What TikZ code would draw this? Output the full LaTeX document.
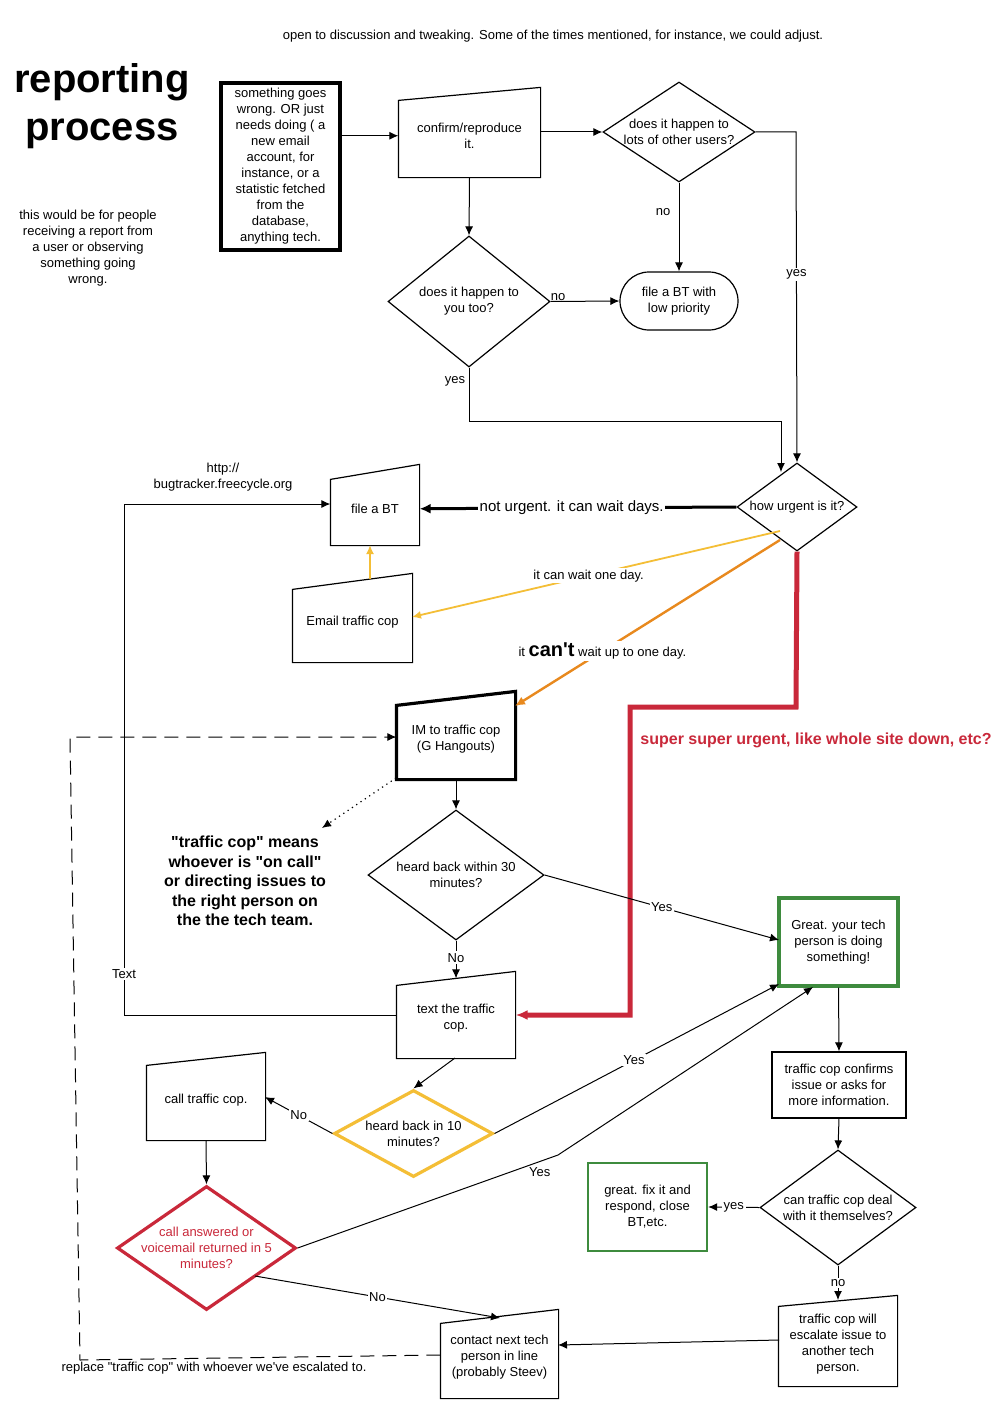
\documentclass[tikz,border=0pt]{standalone}
\usepackage{fontspec}
\setmainfont{Liberation Sans}
\usetikzlibrary{arrows.meta,shapes.geometric}
\definecolor{cyel}{HTML}{F4BE36}
\definecolor{corg}{HTML}{E8891E}
\definecolor{cred}{HTML}{C9283A}
\definecolor{cgrn}{HTML}{3E8B3E}
\newcommand\manual[8]{%
  \node[manbox,minimum width=#5*0.5pt,minimum height=#6*0.5pt] (#2) at (#3,#4) {#8};
  \draw[#1] (#2.south west) -- (#2.south east) -- ([yshift=#7]#2.north east) -- ([yshift=-#7]#2.north west) -- cycle;}
\newcommand\dq{\textquotedbl}
\begin{document}
\begin{tikzpicture}[x=0.5pt,y=-0.5pt,
  font=\fontsize{6.5}{8}\selectfont,
  manbox/.style={draw=none,inner sep=0pt,align=center,rectangle},
  dia/.style={diamond,draw,inner sep=0pt,line width=0.6pt},
  lbl/.style={align=center,inner sep=0pt},
  arr/.style={line width=0.5pt,-{Latex[length=4.5pt,width=4pt]}},
  el/.style={fill=white,inner sep=0.8pt},
  line width=0.6pt]
\useasboundingbox[fill=white] (0,0) rectangle (1000,1413);

\node[lbl] (top) at (553,36) {open to discussion and tweaking. Some of the times mentioned, for instance, we could adjust.};
\node[lbl,font=\fontsize{20}{24}\selectfont\bfseries] (title) at (102,106) {reporting\\process};
\node[lbl] (note1) at (88,248) {this would be for people\\receiving a report from\\a user or observing\\something going\\wrong.};

\node[draw,line width=1.6pt,minimum width=59.5pt,minimum height=83.5pt,inner sep=0pt,align=center] (s1) at (280.5,166.5) {something goes\\wrong. OR just\\needs doing ( a\\new email\\account, for\\instance, or a\\statistic fetched\\from the\\database,\\anything tech.};

\manual{}{conf}{469.5}{135.75}{141}{82.5}{3.25pt}{confirm/reproduce\\it.}
\node[dia,minimum width=76pt,minimum height=50pt] (d1) at (679,132) {};
\node[lbl] at (d1) {does it happen to\\lots of other users?};
\node[dia,minimum width=81pt,minimum height=65.5pt] (d2) at (469,301.5) {};
\node[lbl] at (d2) {does it happen to\\you too?};
\node[draw,rounded corners=14.5pt,minimum width=59pt,minimum height=29pt,align=center,inner sep=0pt] (bt) at (679,301) {file a BT with\\low priority};
\node[dia,minimum width=60pt,minimum height=44pt] (d3) at (797,507) {};
\node[lbl] at (d3) {how urgent is it?};

\manual{}{fbt}{375}{508.75}{88}{72.5}{3.75pt}{file a BT}
\node[lbl] (url) at (223,477) {http://\\bugtracker.freecycle.org};
\manual{}{email}{352.5}{622}{119}{80}{4pt}{Email traffic cop}
\manual{line width=1.6pt}{im}{456}{739}{118}{80}{3.5pt}{IM to traffic cop\\(G Hangouts)}
\node[lbl,font=\fontsize{8}{9.75}\selectfont\bfseries] (tcnote) at (245,881) {\dq traffic cop\dq{} means\\whoever is \dq on call\dq\\or directing issues to\\the right person on\\the the tech team.};
\node[dia,minimum width=88pt,minimum height=65pt] (d4) at (456,875) {};
\node[lbl] at (d4) {heard back within 30\\minutes?};
\node[draw=cgrn,line width=1.6pt,minimum width=59.5pt,minimum height=44pt,align=center,inner sep=0pt] (great) at (838.5,942) {Great. your tech\\person is doing\\something!};
\manual{}{txt}{456}{1018.5}{118}{79}{3.5pt}{text the traffic\\cop.}
\node[dia,draw=cyel,line width=1.6pt,minimum width=79.5pt,minimum height=43.5pt] (d5) at (413.5,1133.5) {};
\node[lbl] at (d5) {heard back in 10\\minutes?};
\manual{}{call}{206}{1099.75}{118}{80.5}{3.25pt}{call traffic cop.}
\node[dia,draw=cred,line width=1.6pt,minimum width=89.5pt,minimum height=62pt] (d6) at (206.5,1248) {};
\node[lbl,text=cred] at (d6) {call answered or\\voicemail returned in 5\\minutes?};
\manual{}{contact}{499.5}{1357.5}{117}{81}{3.5pt}{contact next tech\\person in line\\(probably Steev)};
\node[draw,minimum width=67pt,minimum height=33pt,align=center,inner sep=0pt] (conf2) at (839,1085) {traffic cop confirms\\issue or asks for\\more information.};
\node[dia,minimum width=78pt,minimum height=57.5pt] (d7) at (838,1207.5) {};
\node[lbl] at (d7) {can traffic cop deal\\with it themselves?};
\node[draw=cgrn,line width=1.2pt,minimum width=59.5pt,minimum height=44pt,align=center,inner sep=0pt] (fix) at (647.5,1207) {great. fix it and\\respond, close\\BT,etc.};
\manual{}{esc}{838}{1343.75}{118}{84.5}{2.75pt}{traffic cop will\\escalate issue to\\another tech\\person.}

\node[lbl,text=cred,font=\fontsize{8}{9}\selectfont\bfseries] (super) at (816,740) {super super urgent, like whole site down, etc?};
\node[lbl] (repl) at (214,1368) {replace \dq traffic cop\dq{} with whoever we\textquotesingle ve escalated to.};

% connectors
\draw[arr] (s1.east |- conf.west) -- (conf.west);
\draw[arr] (conf.east |- d1.west) -- (d1.west);
\draw[arr] (conf.south) -- (d2.north);
\draw[arr] (d1.south) -- node[el,pos=0.33,xshift=-8pt]{no} (bt.north);
\draw[arr] (d2.east) -- node[el,pos=0.05,above,yshift=-0.5pt,xshift=2pt,fill=none]{no} (bt.west);
\coordinate (c1) at (796,132);
\draw[arr] (d1.east) -- (c1) -- node[el,pos=0.43]{yes} (d3.north);
\coordinate (c2) at (469,421);
\coordinate (c3) at (781,421);
\coordinate (c4) at (781,472);
\draw[arr] (d2.south) -- node[el,pos=0.25,xshift=-7pt]{yes} (c2) -- (c3) -- (c4);
\draw[line width=1.5pt,-{Latex[length=5.5pt,width=5pt]}] (d3.west) -- node[el,pos=0.52,font=\fontsize{7.5}{8}\selectfont]{not urgent. it can wait days.} (fbt.east);
\coordinate (c5) at (780,531);
\coordinate (c5b) at (412,617);
\draw[cyel,line width=0.9pt,-{Latex[length=4.5pt,width=4pt]}] (c5) -- node[el,pos=0.52,text=black]{it can wait one day.} (c5b);
\coordinate (c6) at (780,540);
\coordinate (c6b) at (515,706);
\draw[corg,line width=1.2pt,-{Latex[length=5pt,width=4.5pt]}] (c6) -- node[el,pos=0.67,text=black]{it {\fontsize{10}{10}\selectfont\bfseries can\textquotesingle t} wait up to one day.} (c6b);
\coordinate (c7) at (796,707);
\coordinate (c8) at (630,707);
\coordinate (c9) at (630,1015);
\draw[cred,line width=2.5pt,-{Latex[length=6pt,width=5pt]}] (d3.south) -- (c7) -- (c8) -- (c9) -- (txt.east |- c9);
\coordinate (e1) at (370,579);
\coordinate (e2) at (370,545);
\draw[cyel,line width=0.9pt,-{Latex[length=4.5pt,width=4pt]}] (e1) -- (e2);
\coordinate (dt1) at (396,778);
\coordinate (dt2) at (322,828);
\draw[dotted,line width=0.6pt,-{Latex[length=4.5pt,width=4pt]}] (dt1) -- (dt2);
\draw[arr] (im.south) -- (d4.north);
\coordinate (g1) at (779,940);
\draw[arr] (d4.east) -- node[el,pos=0.5]{Yes} (g1);
\draw[arr] (d4.south) -- node[el,pos=0.45]{No} (txt.north);
\coordinate (t1) at (124,1015);
\coordinate (t2) at (124,504);
\draw[arr] (txt.west |- t1) -- (t1) -- node[el,pos=0.08]{Text} (t2) -- (fbt.west |- t2);
\coordinate (t3) at (455,1058);
\draw[arr] (t3) -- (d5.north);
\coordinate (k1) at (265,1097);
\draw[arr] (d5.west) -- node[el,pos=0.5]{No} (k1);
\coordinate (g2) at (779,984);
\draw[arr] (d5.east) -- node[el,pos=0.49]{Yes} (g2);
\draw[arr] (call.south) -- (d6.north);
\coordinate (y1) at (558,1155);
\coordinate (g3) at (813,987);
\draw[arr] (d6.east) -- node[el,pos=0.93,below,yshift=-2pt,fill=none]{Yes} (y1) -- (g3);
\coordinate (n1) at (255,1276);
\coordinate (n2) at (500,1318);
\draw[arr] (n1) -- node[el,pos=0.5]{No} (n2);
\draw[arr] (great.south) -- (conf2.north);
\draw[arr] (conf2.south) -- (d7.north);
\draw[arr] (d7.west) -- node[el,pos=0.5]{yes} (fix.east);
\coordinate (e3) at (838,1300);
\draw[arr] (d7.south) -- node[el,pos=0.5]{no} (e3);
\coordinate (e4) at (779,1340);
\coordinate (e5) at (558,1345);
\draw[arr] (e4) -- (e5);
\coordinate (q1) at (80,1360);
\coordinate (q2) at (70,737);
\draw[arr,dash pattern=on 7pt off 4pt] (contact.west |- 0,1355) -- (q1) -- (q2) -- (im.west |- q2);
\end{tikzpicture}
\end{document}
